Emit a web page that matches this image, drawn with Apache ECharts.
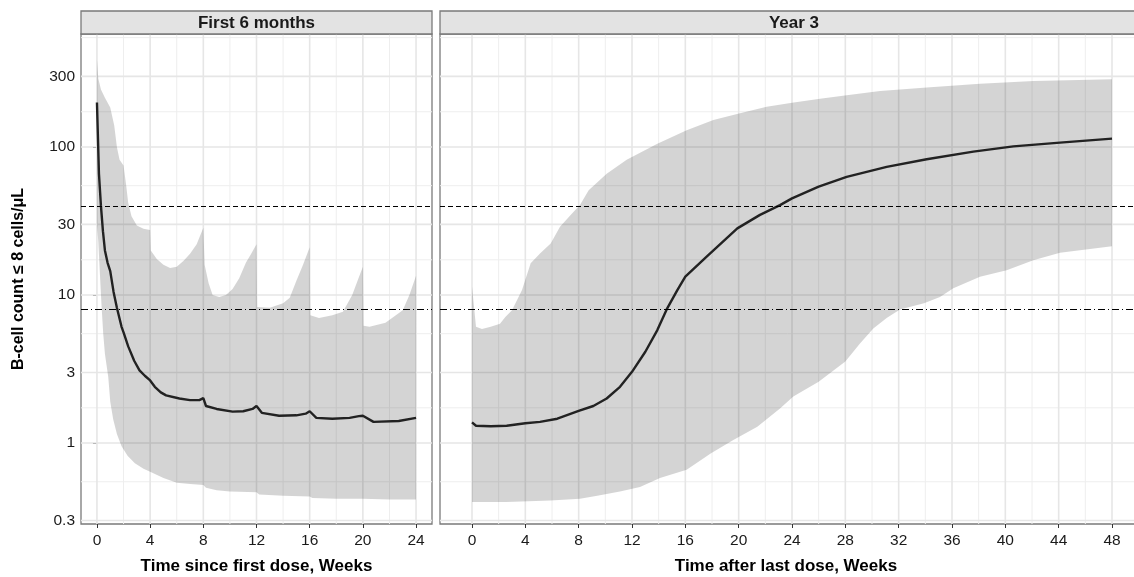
<!DOCTYPE html>
<html>
<head>
<meta charset="utf-8">
<script src="https://cdn.jsdelivr.net/npm/echarts@6/dist/echarts.min.js"></script>
<style>
  html, body { margin: 0; background: #fff; }
  #main { width: 1134px; height: 577px; }
</style>
</head>
<body>
<div id="main"></div>
<script>
// ---- values ----
const panelTitles = ['First 6 months', 'Year 3'];
const xTitles = ['Time since first dose, Weeks', 'Time after last dose, Weeks'];
const yTitle = 'B-cell count \u2264 8 cells/\u03bcL';

const xTicksA = [0, 4, 8, 12, 16, 20, 24];
const xMinorA = [2, 6, 10, 14, 18, 22];
const xTicksB = [0, 4, 8, 12, 16, 20, 24, 28, 32, 36, 40, 44, 48];
const xMinorB = [2, 6, 10, 14, 18, 22, 26, 30, 34, 38, 42, 46];
const yTicks = [0.3, 1, 3, 10, 30, 100, 300];
const yMinor = [0.548, 1.73, 5.48, 17.3, 54.8, 173, 548];
const refLines = [40, 8];

// first 6 months: median
const wkMedA = [0, 0.15, 0.3, 0.45, 0.6, 0.8, 1.0, 1.25, 1.5, 1.85, 2.0, 2.35, 2.8, 3.2, 3.6, 4.0, 4.35, 4.8, 5.2, 6.2, 7.0, 7.7, 8.0, 8.2, 9.0, 10.2, 11.0, 11.7, 12.0, 12.4, 13.7, 15.0, 15.7, 16.0, 16.5, 17.7, 19.0, 19.7, 20.0, 20.8, 22.7, 24.0];
const medA   = [200, 66, 40, 27, 20, 16.5, 14.5, 10.5, 8.2, 6.1, 5.6, 4.5, 3.6, 3.1, 2.85, 2.65, 2.4, 2.2, 2.1, 2.0, 1.95, 1.95, 2.01, 1.78, 1.7, 1.63, 1.64, 1.7, 1.78, 1.6, 1.53, 1.54, 1.58, 1.64, 1.48, 1.46, 1.48, 1.52, 1.53, 1.39, 1.41, 1.48];
// first 6 months: upper bound of band
const wkHiA = [0, 0.1, 0.3, 0.6, 1.0, 1.3, 1.5, 1.7, 2.0, 2.2, 2.35, 2.6, 3.0, 3.5, 4.0, 4.05, 4.5, 5.0, 5.5, 6.0, 6.5, 7.0, 7.5, 8.0, 8.1, 8.4, 8.7, 9.2, 9.7, 10.2, 10.7, 11.2, 11.6, 12.0, 12.05, 13.0, 14.0, 14.5, 15.0, 15.5, 16.0, 16.05, 16.7, 17.7, 18.5, 19.2, 19.6, 20.0, 20.05, 20.5, 21.7, 23.0, 23.5, 24.0];
const hiA   = [390, 290, 245, 215, 185, 140, 100, 82, 75, 55, 42, 34, 29.5, 28, 27.5, 20, 17.5, 16, 15.2, 15.5, 17, 19, 22, 28.5, 16, 12, 10, 9.7, 10, 11, 13, 16.5, 19, 22, 8.3, 8.2, 8.8, 9.6, 12.5, 16, 21, 7.3, 7.0, 7.3, 7.7, 10, 12.5, 15.5, 6.2, 6.1, 6.5, 7.9, 10, 13.5];
// first 6 months: lower bound of band
const wkLoA = [0, 0.1, 0.22, 0.35, 0.47, 0.6, 0.85, 1.0, 1.22, 1.5, 1.85, 2.3, 2.85, 3.5, 4.0, 5.0, 6.0, 7.0, 8.0, 8.2, 9.0, 10.0, 12.0, 12.2, 14.0, 16.0, 16.2, 18.0, 20.0, 22.0, 24.0];
const loA   = [30, 23, 14, 8.3, 5.5, 4.0, 2.8, 1.9, 1.45, 1.15, 0.95, 0.82, 0.73, 0.67, 0.64, 0.58, 0.54, 0.53, 0.52, 0.5, 0.48, 0.47, 0.465, 0.45, 0.44, 0.435, 0.425, 0.42, 0.42, 0.415, 0.415];

// year 3: median
const wkMedB = [0, 0.3, 1.4, 2.6, 4, 5.1, 6.4, 8, 9.1, 10.1, 11.1, 12, 13, 13.9, 14.6, 15.4, 16, 17.6, 19.9, 21.6, 23.1, 24, 26, 28.1, 31.1, 34.1, 37.6, 40.6, 44.1, 48];
const medB   = [1.38, 1.31, 1.30, 1.31, 1.36, 1.39, 1.46, 1.65, 1.78, 2.0, 2.4, 3.03, 4.14, 5.8, 8.0, 10.8, 13.3, 18.2, 28.2, 34.8, 40.5, 45, 54, 62.9, 73.5, 82.6, 93, 101, 107, 114];
// year 3: upper bound
const wkHiB = [0, 0.3, 0.75, 1.4, 2.1, 2.5, 3.0, 3.75, 4.4, 5.1, 5.9, 6.6, 7.5, 8.1, 8.75, 10.1, 11.6, 13.9, 16.1, 18.1, 20.1, 22.1, 24, 26.1, 28.1, 30.6, 34.1, 38.1, 42.1, 48];
const hiB   = [11.4, 6.1, 5.9, 6.1, 6.4, 7.1, 7.9, 10.8, 16.4, 19.1, 22.3, 28.9, 35.6, 40.5, 51, 66, 82, 105, 130, 152, 169, 187, 199, 212, 224, 239, 252, 268, 279, 287];
// year 3: lower bound
const wkLoB = [0, 2.6, 5.9, 8.1, 9.4, 11.1, 12.6, 14.1, 16.1, 17.9, 19.6, 21.4, 23.1, 24.1, 26, 28, 29.1, 30.1, 31.1, 32.1, 33.9, 35.1, 36.1, 38.1, 40.1, 42.1, 44.1, 48];
const loB   = [0.40, 0.40, 0.41, 0.42, 0.44, 0.47, 0.505, 0.58, 0.66, 0.85, 1.05, 1.29, 1.71, 2.06, 2.6, 3.55, 4.7, 5.95, 7.0, 8.0, 8.8, 9.7, 11.1, 13.3, 14.7, 17.2, 19.3, 21.4];

// ---- chart ----
const font = 'Liberation Sans, Arial, Helvetica, sans-serif';
const chart = echarts.init(document.getElementById('main'));

function pairs(xs, ys) {
  return xs.map((x, i) => [x, ys[i]]);
}

// panel grid lines drawn through the axes' own scales
function gridLines(idx, values, vertical, major) {
  return {
    type: 'custom',
    xAxisIndex: idx,
    yAxisIndex: idx,
    silent: true,
    z: 1,
    data: values.map(v => vertical ? [v, 1] : [0, v]),
    renderItem(params, api) {
      const cs = params.coordSys;
      const p = api.coord([api.value(0), api.value(1)]);
      const shape = vertical
        ? { x1: p[0], y1: cs.y, x2: p[0], y2: cs.y + cs.height }
        : { x1: cs.x, y1: p[1], x2: cs.x + cs.width, y2: p[1] };
      return {
        type: 'line',
        shape: shape,
        style: { stroke: major ? '#e6e6e6' : '#eeeeee', lineWidth: major ? 1.6 : 1 }
      };
    }
  };
}

function band(idx, wkHi, hi, wkLo, lo) {
  return {
    type: 'custom',
    xAxisIndex: idx,
    yAxisIndex: idx,
    silent: true,
    z: 2,
    data: [[wkHi[0], hi[0]]],
    renderItem(params, api) {
      const pts = [];
      for (let i = 0; i < wkHi.length; i++) pts.push(api.coord([wkHi[i], hi[i]]));
      for (let i = wkLo.length - 1; i >= 0; i--) pts.push(api.coord([wkLo[i], lo[i]]));
      return { type: 'polygon', shape: { points: pts }, style: { fill: 'rgba(0,0,0,0.17)' } };
    }
  };
}

function median(idx, wk, vals) {
  return {
    type: 'line',
    xAxisIndex: idx,
    yAxisIndex: idx,
    data: pairs(wk, vals),
    showSymbol: false,
    symbol: 'none',
    z: 4,
    lineStyle: { color: '#222', width: 2.4 },
    markLine: {
      silent: true,
      symbol: 'none',
      label: { show: false },
      data: [
        { yAxis: refLines[0], lineStyle: { color: '#000', width: 1, type: [5, 3] } },
        { yAxis: refLines[1], lineStyle: { color: '#000', width: 1, type: [7, 3, 1, 3] } }
      ]
    }
  };
}

function xAxis(idx, min, max, ticks, title, pad) {
  return {
    gridIndex: idx,
    type: 'value',
    min: min,
    max: max,
    name: title,
    nameLocation: 'middle',
    nameGap: 34,
    nameTextStyle: { fontFamily: font, fontSize: 17, fontWeight: 'bold', color: '#000', padding: pad },
    axisLine: { show: false },
    axisTick: { show: true, length: 4, customValues: ticks, lineStyle: { color: '#333', width: 1 } },
    axisLabel: { customValues: ticks, fontFamily: font, fontSize: 15.5, color: '#1a1a1a', margin: 9 },
    splitLine: { show: false }
  };
}

function yAxis(idx, show) {
  return {
    gridIndex: idx,
    type: 'log',
    logBase: 10,
    min: 0.284,
    max: 580,
    name: show ? yTitle : '',
    nameLocation: 'middle',
    nameRotate: 90,
    nameGap: 54,
    nameTextStyle: { fontFamily: font, fontSize: 16, fontWeight: 'bold', color: '#000' },
    axisLine: { show: false },
    axisTick: { show: show, length: 4, customValues: yTicks, lineStyle: { color: '#333', width: 1 } },
    axisLabel: { show: show, customValues: yTicks, fontFamily: font, fontSize: 15.5, color: '#1a1a1a', margin: 6,
                 formatter: v => String(+v.toPrecision(3)) },
    splitLine: { show: false },
    minorSplitLine: { show: false }
  };
}

const stripStyle = { fill: '#e3e3e3', stroke: '#7a7a7a', lineWidth: 1.3 };

chart.setOption({
  animation: false,
  backgroundColor: '#fff',
  grid: [
    { left: 81, top: 34, width: 351, height: 490, outerBoundsMode: 'none', containLabel: false,
      show: true, backgroundColor: '#fff', borderColor: '#7a7a7a', borderWidth: 1.3 },
    { left: 440, top: 34, width: 704, height: 490, outerBoundsMode: 'none', containLabel: false,
      show: true, backgroundColor: '#fff', borderColor: '#7a7a7a', borderWidth: 1.3 }
  ],
  xAxis: [
    xAxis(0, -1.2, 25.2, xTicksA, xTitles[0], [0, 0, 0, 0]),
    xAxis(1, -2.4, 50.4, xTicksB, xTitles[1], [0, 12, 0, 0])
  ],
  yAxis: [yAxis(0, true), yAxis(1, false)],
  graphic: [
    { type: 'rect', shape: { x: 81, y: 11, width: 351, height: 23 }, style: stripStyle, z: 10 },
    { type: 'rect', shape: { x: 440, y: 11, width: 704, height: 23 }, style: stripStyle, z: 10 },
    { type: 'text', x: 256.5, y: 23, z: 11,
      style: { text: panelTitles[0], font: 'bold 17px ' + font, fill: '#1a1a1a', align: 'center', verticalAlign: 'middle' } },
    { type: 'text', x: 794, y: 23, z: 11,
      style: { text: panelTitles[1], font: 'bold 17px ' + font, fill: '#1a1a1a', align: 'center', verticalAlign: 'middle' } }
  ],
  series: [
    gridLines(0, xMinorA, true, false),
    gridLines(0, yMinor, false, false),
    gridLines(0, xTicksA, true, true),
    gridLines(0, yTicks, false, true),
    gridLines(1, xMinorB, true, false),
    gridLines(1, yMinor, false, false),
    gridLines(1, xTicksB, true, true),
    gridLines(1, yTicks, false, true),
    band(0, wkHiA, hiA, wkLoA, loA),
    band(1, wkHiB, hiB, wkLoB, loB),
    median(0, wkMedA, medA),
    median(1, wkMedB, medB)
  ]
});
</script>
</body>
</html>
